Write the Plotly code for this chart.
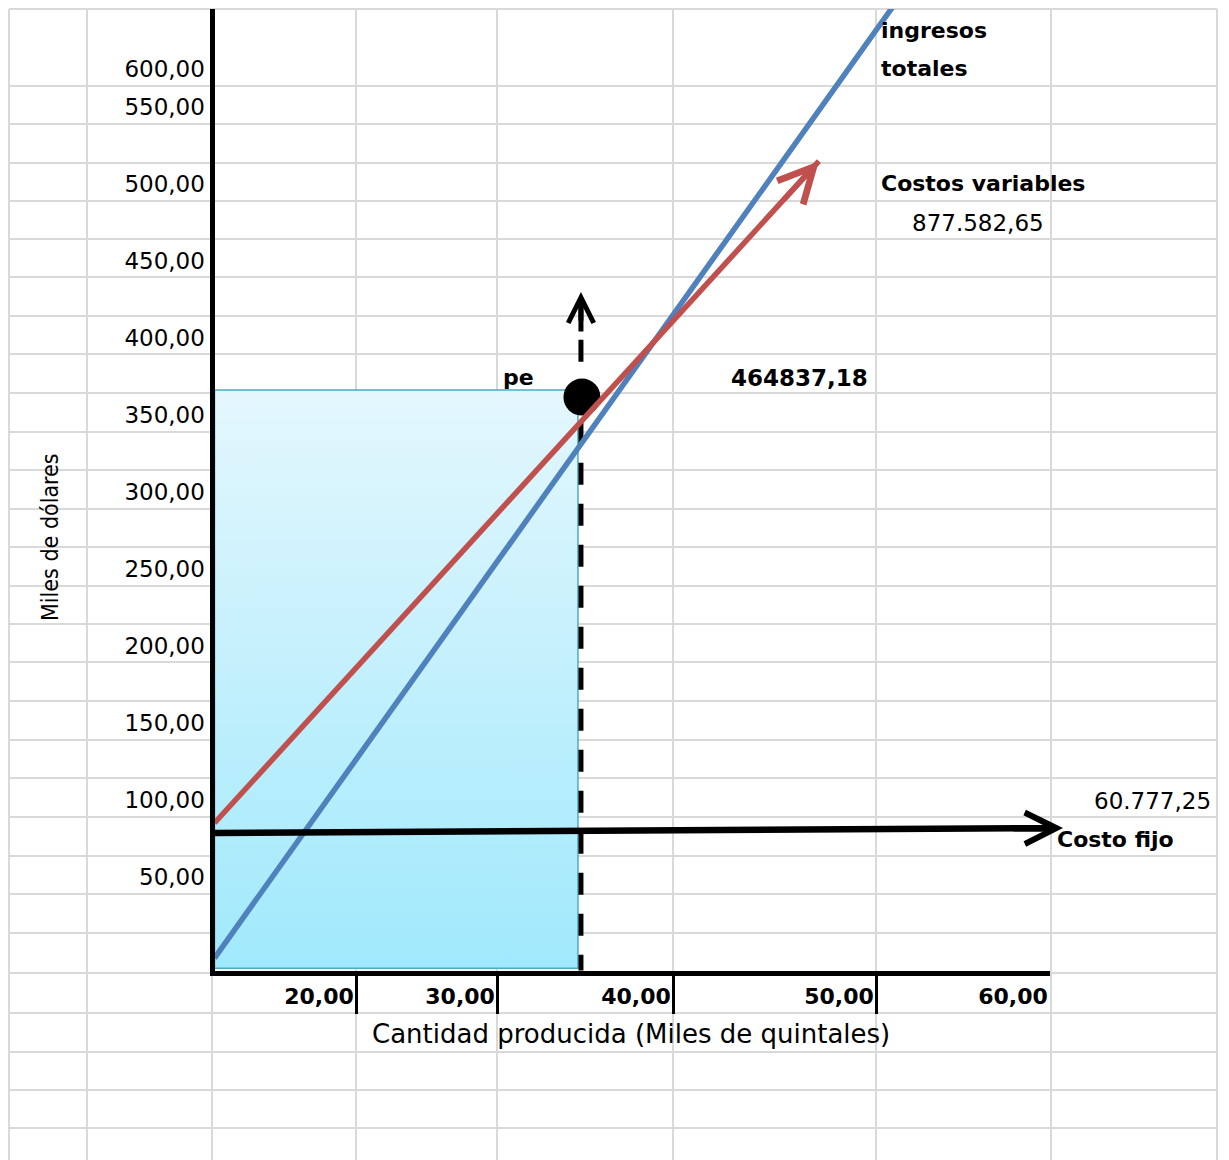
import plotly.graph_objects as go

W, H = 1229, 1160

# ---- data (quantity in thousands of quintals, value in thousands of dollars) ----
ingresos_q = [10.0, 50.6]
ingresos_v = [8.1, 626.0]

costos_var_q = [10.0, 46.17]
costos_var_v = [95.8, 525.6]

costo_fijo_q = [10.0, 60.78]
costo_fijo_v = [89.3, 92.5]

pe_q = [31.99]
pe_v = [372.4]

pe_guide_q = [31.93, 31.93]
pe_guide_v = [-4.0, 440.6]

zone_q = [10.0, 31.75]
zone_v = [1.5, 377.0]

x_tick_labels = ["20,00", "30,00", "40,00", "50,00", "60,00"]
x_tick_pos = [18.47, 26.91, 37.44, 49.59, 60.0]

y_tick_labels = ["50,00", "100,00", "150,00", "200,00", "250,00", "300,00",
                 "350,00", "400,00", "450,00", "500,00", "550,00", "600,00"]
# the 600 label sits at the bottom of the tall first sheet row
y_tick_pos = [50, 100, 150, 200, 250, 300, 350, 400, 450, 500, 550, 574.4]

# ---- worksheet cell borders (pixel positions of the sheet grid) ----
sheet_cols = [9, 87, 212, 356, 497, 673, 876, 1051, 1217]
sheet_rows = [9, 86, 124, 163, 201, 239, 277, 316, 354, 393, 432, 470, 509,
              547, 586, 624, 662, 701, 740, 778, 817, 856, 894, 933, 973,
              1013, 1052, 1090, 1128]

GRID = "#d9d9d9"
BLUE = "#4f81bd"
RED = "#c0504d"
TEAL = "#4bacc6"
FONT = "DejaVu Sans"


def px(x):
    return x / W


def py(y):
    return 1 - y / H


shapes = []
for c in sheet_cols:
    shapes.append(dict(type="line", xref="paper", yref="paper", layer="below",
                       x0=px(c), x1=px(c), y0=py(sheet_rows[0]), y1=0,
                       line=dict(color=GRID, width=2)))
for r in sheet_rows:
    shapes.append(dict(type="line", xref="paper", yref="paper", layer="below",
                       x0=px(sheet_cols[0]), x1=px(sheet_cols[-1]), y0=py(r), y1=py(r),
                       line=dict(color=GRID, width=2)))

fig = go.Figure()

# shaded area up to the break-even point
fig.add_trace(go.Scatter(
    x=[zone_q[0], zone_q[1], zone_q[1], zone_q[0], zone_q[0]],
    y=[zone_v[0], zone_v[0], zone_v[1], zone_v[1], zone_v[0]],
    mode="lines", fill="toself",
    fillgradient=dict(type="vertical",
                      colorscale=[[0, "#a0e9fc"], [1, "#e4f7fd"]]),
    line=dict(color=TEAL, width=1.5), hoverinfo="skip", showlegend=False))

# dashed guide from the break-even point
fig.add_trace(go.Scatter(
    x=pe_guide_q, y=pe_guide_v, mode="lines",
    line=dict(color="black", width=5, dash="22px,19px"),
    hoverinfo="skip", showlegend=False))

# break-even point
fig.add_trace(go.Scatter(
    x=pe_q, y=pe_v, mode="markers",
    marker=dict(color="black", size=37, line=dict(width=0)),
    showlegend=False))

# total revenue
fig.add_trace(go.Scatter(
    x=ingresos_q, y=ingresos_v, mode="lines",
    line=dict(color=BLUE, width=5.5), showlegend=False))

# variable costs
fig.add_trace(go.Scatter(
    x=costos_var_q, y=costos_var_v, mode="lines",
    line=dict(color=RED, width=5.5), showlegend=False))

# fixed cost
fig.add_trace(go.Scatter(
    x=costo_fijo_q, y=costo_fijo_v, mode="lines",
    line=dict(color="black", width=6.5), showlegend=False))

# carrier for the tick-mark axis
fig.add_trace(go.Scatter(x=[], y=[], xaxis="x3", yaxis="y", showlegend=False))


def arrow_head(qs, vs, color, width, size):
    tq = qs[1] - 0.06 * (qs[1] - qs[0])
    tv = vs[1] - 0.06 * (vs[1] - vs[0])
    return dict(x=qs[1], y=vs[1], ax=tq, ay=tv, xref="x", yref="y",
                axref="x", ayref="y", text="", showarrow=True,
                arrowhead=5, arrowwidth=width, arrowsize=size, arrowcolor=color)


annotations = [
    arrow_head(costos_var_q, costos_var_v, RED, 5.5, 1.25),
    arrow_head(costo_fijo_q, costo_fijo_v, "black", 6.5, 0.95),
    arrow_head(pe_guide_q, pe_guide_v, "black", 5, 1.0),
]


def cell_text(text, x, y, anchor="left", bold=False, size=22):
    return dict(text=text, x=px(x), y=py(y), xref="paper", yref="paper",
                xanchor=anchor, yanchor="middle", showarrow=False,
                font=dict(family=FONT, size=size, color="black",
                          weight="bold" if bold else "normal"))


annotations += [
    cell_text("ingresos", 879, 31, bold=True),
    cell_text("totales", 879, 69, bold=True),
    cell_text("Costos variables", 879, 184, bold=True),
    cell_text("877.582,65", 1046, 223, anchor="right", size=23),
    cell_text("464837,18", 870, 378, anchor="right", bold=True, size=23),
    cell_text("pe", 501, 378, bold=True),
    cell_text("60.777,25", 1213, 801, anchor="right", size=23),
    cell_text("Costo fijo", 1055, 839, bold=True),
    cell_text("Cantidad producida (Miles de quintales)", 631, 1034,
              anchor="center", size=26),
    dict(text="Miles de dólares", x=px(50), y=py(537), xref="paper", yref="paper",
         xanchor="center", yanchor="middle", showarrow=False, textangle=-90,
         font=dict(family="Liberation Sans Narrow, DejaVu Sans Condensed, sans-serif",
                   size=23, color="black")),
]

x_dom = [214.5 / W, 1050 / W]
y_dom = [1 - 970.5 / H, 1 - 9 / H]

fig.update_layout(
    width=W, height=H,
    margin=dict(l=0, r=0, t=0, b=0),
    paper_bgcolor="white", plot_bgcolor="rgba(0,0,0,0)",
    shapes=shapes, annotations=annotations,
    xaxis=dict(domain=x_dom, range=[10, 60], showgrid=False, zeroline=False,
               showline=True, linecolor="black", linewidth=5,
               tickmode="array", tickvals=x_tick_pos, ticktext=x_tick_labels,
               ticks="", ticklabelshift=-37, ticklabelstandoff=2,
               tickfont=dict(family=FONT, size=22, color="black", weight="bold")),
    xaxis3=dict(overlaying="x", anchor="y", side="bottom", range=[10, 60],
                showgrid=False, zeroline=False, showline=False,
                tickmode="array", tickvals=x_tick_pos[:-1],
                ticks="outside", ticklen=42, tickwidth=3, tickcolor="black",
                showticklabels=False),
    yaxis=dict(domain=y_dom, range=[0, 624.4], showgrid=False, zeroline=False,
               showline=True, linecolor="black", linewidth=5,
               tickmode="array", tickvals=y_tick_pos, ticktext=y_tick_labels,
               ticks="", ticklabelshift=-17,
               tickfont=dict(family=FONT, size=23, color="black")),
    showlegend=False,
)

fig.write_html("out.html")
